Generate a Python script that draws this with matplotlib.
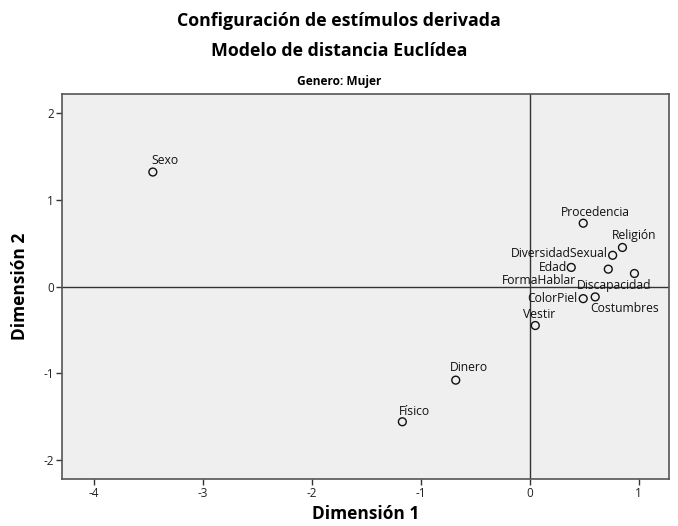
import matplotlib
matplotlib.use("Agg")
import matplotlib.pyplot as plt

# Stimulus coordinates (two-dimensional Euclidean solution)
stimuli = ["Sexo", "Procedencia", "Religión", "DiversidadSexual", "Edad",
           "FormaHablar", "Discapacidad", "ColorPiel", "Costumbres", "Vestir",
           "Dinero", "Físico"]
dim1 = [-3.46, 0.49, 0.85, 0.76, 0.38, 0.72, 0.96, 0.49, 0.60, 0.05, -0.68, -1.17]
dim2 = [1.32, 0.73, 0.45, 0.36, 0.22, 0.20, 0.15, -0.14, -0.12, -0.45, -1.08, -1.56]

xticks = [-4, -3, -2, -1, 0, 1]
yticks = [-2, -1, 0, 1, 2]

# label placement: offset in pixels from the point and horizontal anchor
label_pos = {
    "Sexo": (-1, 12, "left"),
    "Procedencia": (-22, 11, "left"),
    "Religión": (-11, 12, "left"),
    "DiversidadSexual": (-5, 2, "right"),
    "Edad": (-4, 0, "right"),
    "FormaHablar": (-106, -11, "left"),
    "Discapacidad": (-58, -12, "left"),
    "ColorPiel": (-6, 0, "right"),
    "Costumbres": (-5, -12, "left"),
    "Vestir": (-12, 11, "left"),
    "Dinero": (-6, 13, "left"),
    "Físico": (-3, 10, "left"),
}

plt.rcParams["font.family"] = ["Open Sans", "DejaVu Sans"]

fig = plt.figure(figsize=(6.78, 5.26), dpi=100)
ax = fig.add_axes([62.4 / 678, 1 - 479 / 526, (669.3 - 62.4) / 678, (479 - 94) / 526])
ax.set_facecolor("#efefef")

ax.axhline(0, color="#333333", lw=1.0, zorder=1)
ax.axvline(0, color="#333333", lw=1.0, zorder=1)

ax.scatter(dim1, dim2, s=32, facecolors="none", edgecolors="#111111",
           linewidths=1.0, zorder=3)

for name, x, y in zip(stimuli, dim1, dim2):
    dx, dy, ha = label_pos[name]
    ax.annotate(name, (x, y), xytext=(dx, dy), textcoords="offset pixels",
                ha=ha, va="center", fontsize=8.7, color="#111111", zorder=4)

ax.set_xlim(-4.29, 1.28)
ax.set_ylim(-2.22, 2.22)
ax.set_xticks(xticks)
ax.set_yticks(yticks)
ax.set_xticklabels([str(t) for t in xticks])
ax.set_yticklabels([str(t) for t in yticks])
ax.tick_params(labelsize=8.5, length=4, width=1.0, color="#333333",
               labelcolor="#222222", pad=2)

for sp in ax.spines.values():
    sp.set_color("#555555")
    sp.set_linewidth(1.2)

ax.set_xlabel("Dimensión 1", fontsize=12.5, fontweight="bold", labelpad=3.5)
ax.set_ylabel("Dimensión 2", fontsize=12.5, fontweight="bold", labelpad=10.5)

fig.text(0.5, 1 - 21 / 526, "Configuración de estímulos derivada",
         ha="center", va="center", fontsize=12.8, fontweight="bold")
fig.text(0.5, 1 - 51 / 526, "Modelo de distancia Euclídea",
         ha="center", va="center", fontsize=12.8, fontweight="bold")
fig.text(0.5, 1 - 82 / 526, "Genero: Mujer",
         ha="center", va="center", fontsize=8.6, fontweight="bold")

fig.savefig("out.png", dpi=100, facecolor="white")
